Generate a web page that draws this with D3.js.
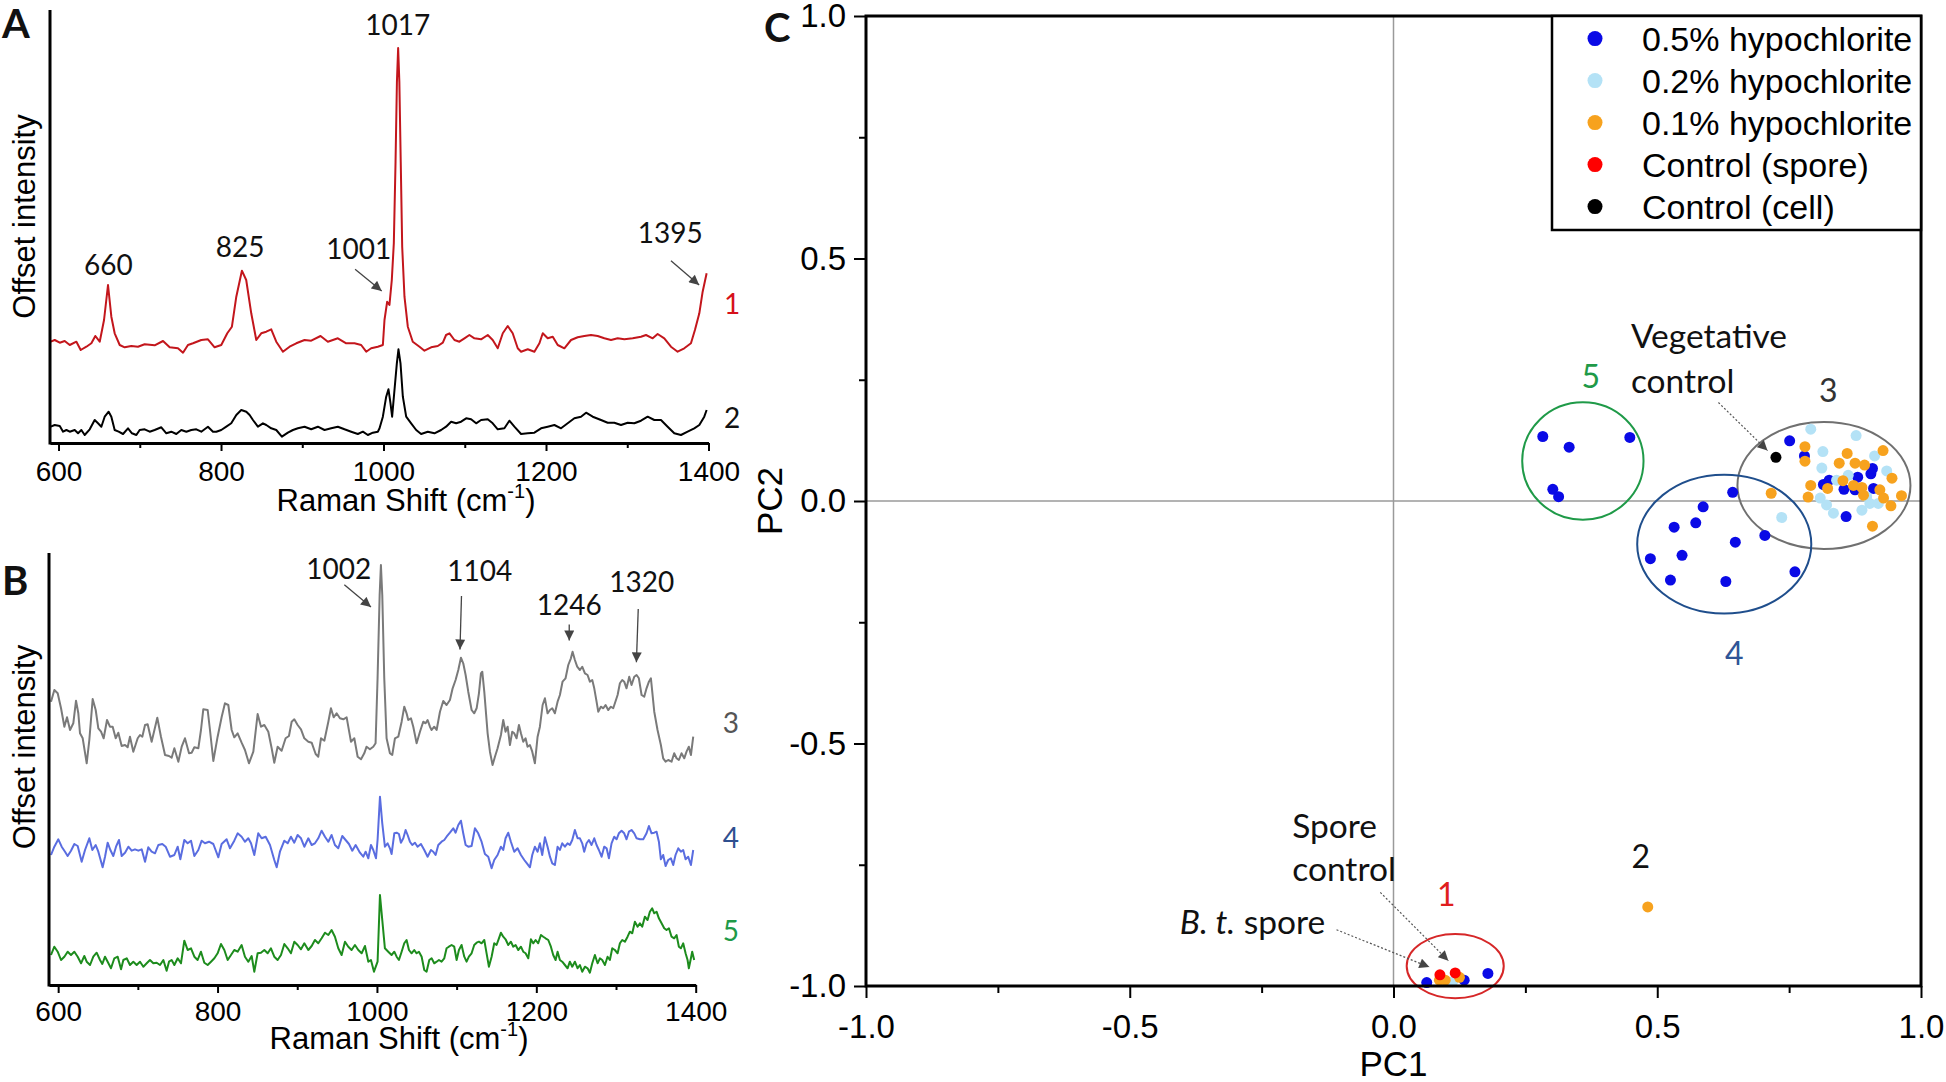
<!DOCTYPE html>
<html><head><meta charset="utf-8">
<script src="https://cdn.jsdelivr.net/npm/d3@7"></script>
<style>body{margin:0;background:#fff}svg{display:block}</style>
</head><body>
<svg id="fig" width="1946" height="1082"></svg>
<script>
// ---------- DATA ----------
// Panel A spectra: [Raman shift (cm-1), offset intensity (a.u.)]
const spectrum1 = [[590.4,100.3],[595.3,102],[601.5,99.3],[607.6,101],[613.8,97],[622,100.3],[627.3,92],[634.3,95.3],[640.4,98.7],[645.3,106],[650.7,100.3],[656,122],[660.9,157],[665,125.3],[669.1,108.7],[675.3,97],[681.4,94.7],[689.6,96],[697.8,95.3],[706,97.7],[718.3,96.7],[728.6,101],[736.8,94.7],[747,93.7],[753.2,89.3],[759.3,97],[765.5,98.7],[775.7,102],[783.9,102.7],[792.1,94.7],[800.3,97],[807.7,108.7],[813.4,115.3],[818.8,145.3],[825.7,171.3],[831,162],[837.2,128.7],[843.4,102],[849.5,108.7],[855.7,110.3],[861.8,112.7],[868,100.3],[876.2,90.3],[884.4,95.3],[892.6,98.7],[902.8,102],[911,101.3],[922.5,106],[931.5,100.3],[943.8,103.7],[954.1,98.7],[964.3,98.7],[972.5,97],[978.7,90.3],[984.8,93.7],[993,95.3],[999.2,97],[1001.2,122],[1004.5,140.3],[1007.3,137],[1010.2,162],[1012.7,199],[1014.8,280],[1016.5,360],[1018,394],[1019.5,360],[1021.2,280],[1023,195],[1025.8,145.3],[1029.9,115.3],[1036,100.3],[1044.3,95.3],[1050.4,91.3],[1058.6,94.7],[1066.8,96],[1073,99.3],[1077,107],[1081.2,108.7],[1087.3,102],[1093.4,100.3],[1099.6,103.7],[1105.7,107],[1111.9,103.7],[1120.1,102.7],[1128.3,107],[1134.4,102],[1140.6,93.7],[1146.8,108.7],[1152.9,116],[1159,108.7],[1165.2,93.7],[1169.3,90.3],[1177.5,92.7],[1185.7,90.3],[1191.9,98.7],[1196,108.7],[1202.1,103.7],[1208.3,105.3],[1214.4,97],[1222.6,93.7],[1230.8,102],[1239,104.7],[1247.2,106],[1255.4,107],[1263.6,106],[1271.8,103.7],[1280,102],[1288.2,103.7],[1296.4,102.7],[1306.7,103.7],[1316.9,105.3],[1323.1,107],[1331.3,103.7],[1337.4,108],[1345.6,103.7],[1353.8,95.3],[1362,90.3],[1370.2,93.7],[1378.4,98.7],[1383.3,112],[1388.7,128.7],[1392.8,150.3],[1397.7,168.7]];
const spectrum2 = [[590.4,15.3],[595.3,17],[601.5,16],[605.6,10.3],[609.7,12],[613.8,10.3],[619.9,12],[624,8.7],[628.1,12],[632.2,7],[638.4,12.7],[644.5,22],[648.6,18.7],[652.7,15.3],[656.8,25.3],[661.7,30.3],[665,25.3],[669.1,12],[674,10.3],[679.4,8],[685.5,13.7],[690.4,8.7],[695.8,7],[699.9,12],[706,12.7],[712.2,10.3],[718.3,12],[726.5,14.7],[732.7,8.7],[738.8,10.3],[745,8],[751.1,12],[757.3,10.3],[763.4,12],[769.6,12.7],[775.7,10.3],[783.9,15.3],[790.1,10.3],[794.2,10.3],[800.3,12],[806.5,15.3],[812.6,18.7],[818.8,27],[824.9,32],[831.1,30.3],[835.2,27],[839.3,22],[845.4,15.3],[851.6,18.7],[855.7,17],[861.8,13.7],[868,12],[874.9,5.3],[882.3,9.3],[888.5,12],[894.6,13.7],[902.8,15.3],[911,12.7],[919.2,15.3],[927.4,12],[935.6,13.7],[943.8,15.3],[952,12.7],[960.2,10.3],[968.4,8],[974.6,10.3],[980.7,7],[986.9,9.3],[993,10.3],[995.1,13.7],[999.2,25.3],[1003.3,45.3],[1006.1,52.7],[1008.6,38.7],[1010.6,25.3],[1013.5,52],[1016.4,78.7],[1018.4,92.7],[1020.9,78.7],[1023.8,45.3],[1027.9,25.3],[1034,18.7],[1040.2,12],[1046.3,8],[1054.5,10.3],[1062.7,8.7],[1070.9,12],[1077,15.3],[1083.2,20.3],[1089.4,18.7],[1095.5,20.3],[1101.7,23.7],[1107.8,22.7],[1114,18.7],[1120.1,22],[1128.3,22.7],[1134.4,18.7],[1140.6,12.7],[1148.8,13.7],[1154.9,21.3],[1161.1,15.3],[1169.3,8],[1177.5,8.7],[1185.7,9.3],[1193.9,13.7],[1202.1,15.3],[1210.3,17],[1218.5,13.7],[1226.7,18.7],[1234.9,23.7],[1243.1,25.3],[1249.3,29.3],[1257.5,25.3],[1267.7,22],[1275.9,19.3],[1284.1,19.3],[1292.3,17],[1300.5,19.3],[1308.7,18.7],[1316.9,21.3],[1325.1,25.3],[1333.3,22],[1341.5,22],[1349.7,15.3],[1357.9,8.7],[1366.1,7],[1374.3,10.3],[1382.5,13.7],[1388.7,17],[1394.8,25.3],[1397.7,32]];
// Panel B spectra
const spectrum3 = [[591,283.3],[595.2,295],[599.4,291.7],[603.6,276.7],[607.8,258.3],[611.1,267.7],[614.9,255],[619,261.7],[622.4,284.3],[625.3,271.7],[627.4,251.7],[630.8,246.7],[635.8,221.7],[639.1,245],[643.3,286],[647.1,275],[650.4,256.7],[653.8,253.3],[657.1,246.7],[661.3,265],[665,258.3],[668.4,258.3],[672.2,246.7],[675.5,252.3],[679.7,239],[683.9,240],[687.2,237.7],[690.1,248.3],[694.3,233.3],[699.8,246.7],[702.7,250],[705.6,248.3],[709,260],[712.3,260.7],[717.3,243.3],[724.4,267.3],[729,248.3],[734.1,230],[739.1,229],[742.4,227.3],[745.8,236.7],[750.8,223.3],[755,238.3],[759.1,246.7],[764.2,231.7],[767.5,232.3],[770.9,237.7],[775.9,236.7],[779.2,255],[782.1,275.7],[787.6,275],[790.5,255],[794.7,224],[800.1,248.3],[805.1,267.7],[809.3,281.7],[813.5,280],[817.7,255],[821,247.7],[825.2,251.7],[830.2,242.3],[834.4,235],[839.4,221.7],[844.9,233.3],[850.3,271],[854.5,258.3],[858.7,260],[863.7,253.3],[867.9,236.7],[871.2,222.3],[875.4,238.3],[880.4,234.3],[885.4,246.7],[889.6,249],[893,263.3],[896.3,265.7],[900.5,260],[904.7,255.7],[908.9,246.7],[913.9,243.3],[918.1,242.3],[923.1,231],[926.4,228.3],[929.8,246.7],[934,244.3],[939,263.3],[942.3,276.7],[945.7,267.7],[949.4,271.7],[953.6,266.7],[957.8,265.7],[962,267.7],[967.4,243.3],[971.6,246.7],[975.8,228.3],[980,225.7],[984.1,231.7],[987,238.3],[991.2,235.7],[995.4,238.3],[998.3,241.7],[1000.8,306.7],[1003.4,390],[1005,420],[1006.7,390],[1009.2,306.7],[1012.1,246.7],[1016.3,231.7],[1019.2,230],[1022.6,246.7],[1026.8,248.3],[1031,263.3],[1034.3,278.3],[1037.2,271.7],[1039.3,265],[1042.7,266.7],[1045.6,258.3],[1049.8,241.7],[1054,253.3],[1058.1,263.3],[1061.1,261.7],[1063.6,265],[1066.5,258.3],[1068.6,255],[1071.9,258.3],[1074.9,255],[1079.1,273.3],[1083.2,284],[1087.4,280],[1091.6,285],[1095,296.7],[1098.7,305],[1102.1,315],[1105.4,327.3],[1108.3,321.7],[1111.3,310],[1114.6,293.3],[1118.8,275],[1122.1,271.7],[1125.1,276.7],[1128,291.7],[1130.5,311.7],[1132.2,313.3],[1134.7,293.3],[1138.9,251.7],[1141.8,233.3],[1145.1,220],[1148.1,228.3],[1151.4,236.7],[1155.6,250],[1158.5,265],[1161.4,253.3],[1164,258.3],[1166.9,240],[1169.8,253.3],[1172.3,251.7],[1175.2,246.7],[1178.2,260],[1180.7,251.7],[1183.6,243.3],[1186.5,246.7],[1189,238.3],[1192,240],[1194.9,233.3],[1198.2,221.7],[1201.6,248.3],[1204.5,258.3],[1207.9,280],[1210.8,286.7],[1214.1,271.7],[1217.1,275],[1220,276.7],[1223.3,271.7],[1226.7,283.3],[1229.6,290],[1232.9,303.3],[1236.7,306.7],[1240.1,320],[1243.4,326.7],[1245.5,333.3],[1248.4,325],[1251.3,318.3],[1254.7,315],[1257.6,318.3],[1261,311.7],[1264.3,310],[1267.2,303.3],[1270.2,305],[1272.7,296.7],[1275.6,283.3],[1277.7,273.3],[1281,278.3],[1284,276.7],[1286.9,280],[1290.2,275],[1293.6,278.3],[1296.5,276.7],[1298.6,281.7],[1302,290],[1304.9,301.7],[1307.8,305],[1310.3,303.3],[1313.2,296.7],[1316.6,308.3],[1319.5,300],[1322.9,308.3],[1325.8,310],[1328.7,306.7],[1332.1,290],[1335.4,288.3],[1338.3,296.7],[1341.3,303.3],[1343.8,306.7],[1348,273.3],[1352.1,255],[1356.3,240],[1359.2,226.7],[1362.2,223.3],[1365.5,225],[1369.7,223.3],[1373,231.7],[1376,226.7],[1378.9,225],[1382.2,231.7],[1385.6,226.7],[1388.5,233.3],[1391.4,238.3],[1394,230],[1396.9,248.3]];
const spectrum4 = [[591,130],[595.2,138.3],[600.2,145.7],[604.4,138.3],[608.6,133.3],[611.9,129],[616.1,134.3],[620.3,141],[624.5,139],[629.5,123.3],[633.7,135],[639.1,146.7],[642.9,135],[647.1,140],[650.4,133.3],[655.8,117.7],[658.8,128.3],[662.1,142.3],[665.5,135],[669.2,129],[672.6,138.3],[676.3,145],[679.7,129],[683.9,132.3],[688.1,138.3],[692.2,134.3],[696.4,135.7],[700.6,134.3],[704.8,135.7],[709,123.3],[713.1,137.7],[717.3,133.3],[721.5,131.7],[725.7,140],[730.7,141],[734.9,138.3],[740.3,128.3],[745.8,130],[750,138.3],[753.3,125.7],[758.3,145],[762.5,141.7],[766.7,144.3],[770.9,129],[775.9,135],[780.1,144.3],[784.2,141.7],[789.3,143.3],[794.7,141],[801,127.7],[805.1,141],[811.4,145.7],[815.6,136.7],[821,144.3],[825.2,151.7],[830.2,148.3],[834.4,143.3],[838.6,146.7],[842,141.7],[846.1,130],[851.1,151.7],[855.3,146.7],[860.4,148.3],[865.8,140],[871.2,125],[874.2,117.7],[878.3,133.3],[883.8,144.3],[888,141.7],[892.1,148.3],[896.3,142.3],[900.5,150],[904.7,146.7],[908.9,138.3],[913.9,146.7],[918.1,140],[922.2,141.7],[926.4,146.7],[930.6,154.3],[934.8,148.3],[939,143.3],[943.1,150],[947.3,140],[951.5,136.7],[956.5,149],[960.7,145],[964.9,141],[969.1,134.3],[973.3,140],[978.7,132.3],[982.9,128.3],[985.8,133.3],[989.2,126.7],[992.5,140],[995.4,135],[998.8,126.7],[1000.8,145],[1003.8,188.3],[1006.7,161.7],[1010,138.3],[1013.4,141.7],[1016.3,136.7],[1018.4,131],[1021.8,151.7],[1024.7,152.3],[1027.6,151],[1030.1,142.3],[1033.1,146.7],[1036,155],[1038.5,150],[1041.4,143.3],[1044.3,140],[1047.7,142.3],[1051,138.3],[1055.2,141],[1059.4,135],[1063.6,128.3],[1067.8,135],[1070.7,133.3],[1073.6,130],[1077,140],[1081.1,143.3],[1084.5,145],[1087.4,148.3],[1091.6,152.3],[1095.8,156.7],[1098.7,152.3],[1102.1,160],[1105.4,164.3],[1108.3,151.7],[1111.3,140],[1114.6,138.3],[1118.8,139],[1123,156.7],[1127.1,151.7],[1131.3,143.3],[1135.5,131],[1139.7,128.3],[1143.9,116.7],[1147.2,125],[1151.4,130],[1155.6,138.3],[1158.5,135],[1161.4,146.7],[1164.8,152.3],[1168.1,143.3],[1172.3,133.3],[1176.5,136.7],[1180.7,130],[1184.9,125],[1188.2,121.7],[1192,117.7],[1194.9,130],[1198.2,138.3],[1201.6,133.3],[1204.5,141.7],[1207.4,130],[1210.8,147.7],[1214.1,138.3],[1217.1,128.3],[1220,121.7],[1223.3,120],[1226.7,138.3],[1229.6,135],[1232.5,141.7],[1235.9,138.3],[1239.2,141.7],[1242.1,140],[1245.1,145],[1248.4,155],[1251.8,146.7],[1254.7,146.7],[1257.6,141.7],[1260.1,133.3],[1263.1,141.7],[1266,145],[1269.3,140],[1272.7,146.7],[1275.6,140],[1278.5,135],[1281.9,128.3],[1285.2,138.3],[1288.2,136.7],[1291.1,126.7],[1294.4,141.7],[1297.8,148.3],[1300.7,145.7],[1303.6,151.7],[1307,154.3],[1310.3,151.7],[1313.2,145.7],[1316.2,153.3],[1319.5,155],[1322.9,151.7],[1325.8,146.7],[1330,145.7],[1334.2,145.7],[1338.3,151.7],[1341.3,159],[1344.6,151.7],[1348,152.3],[1350.9,153.3],[1353.8,143.3],[1356.3,125.7],[1359.2,130],[1362.2,119],[1365.5,125],[1368.9,126.7],[1371.8,120],[1374.7,130],[1378.1,136.7],[1381.4,133.3],[1384.3,135],[1387.3,125.7],[1390.6,128.3],[1394,120],[1396.9,135]];
const spectrum5 = [[591,30],[595.2,38.3],[599.4,33.3],[603.6,25],[607.8,28.3],[611.9,33.3],[616.1,30],[620.3,33.3],[624.5,28.3],[628.7,21.7],[632.8,29],[635.8,23.3],[640,20],[644.1,28.3],[648.3,32.3],[652.5,25],[655.4,21],[658.8,28.3],[662.1,23.3],[666.3,16.7],[670.5,26.7],[674.7,28.3],[678.9,15.7],[681.8,25],[686,26.7],[690.1,20],[694.3,23.3],[698.5,20],[702.7,23.3],[706.9,18.3],[711.1,21.7],[715.2,25],[719.4,21.7],[723.6,22.3],[727.8,20],[732,25],[736.1,14.3],[739.1,23.3],[742.4,25],[745.8,20],[750,26.7],[754.1,21.7],[758.3,44.3],[762.5,35],[766.7,36.7],[770.9,28.3],[775,25],[779.2,33.3],[783.4,22.3],[787.6,20],[791.8,23.3],[796,26.7],[800.1,31.7],[804.3,41],[808.5,35],[812.7,25],[816.9,30],[821,35],[825.2,33.3],[830.2,40],[834.4,28.3],[838.6,23.3],[842.8,29],[846.1,13.3],[850.3,31.7],[854.5,32.3],[858.7,35],[862.9,31.7],[867,36.7],[871.2,28.3],[875.4,25],[879.6,30],[883.8,41],[888,36.7],[892.1,31.7],[896.3,43.3],[900.5,40],[904.7,35.7],[908.9,41.7],[913.9,35],[918.1,39],[922.2,45],[926.4,41.7],[930.6,46.7],[934.8,52.3],[939,50],[943.1,55],[947.3,48.3],[951.5,36.7],[955.7,30],[959.9,43.3],[964.1,38.3],[968.2,35],[972.4,40],[976.6,35],[980.8,31.7],[985,39],[989.2,23.3],[992.5,25],[996.3,13.3],[1000.8,23.3],[1003.8,90],[1006.7,65],[1010,36.7],[1014.2,33.3],[1018.4,30],[1021.8,33.3],[1024.7,28.3],[1027.6,25],[1031,33.3],[1034.3,41.7],[1037.2,45],[1040.2,35],[1043.5,31.7],[1046.8,35],[1049.8,31.7],[1052.7,33.3],[1056.1,28.3],[1059.4,15],[1062.3,13.3],[1065.7,25],[1068.6,26.7],[1071.9,21.7],[1074.9,23.3],[1077.8,25],[1081.1,23.3],[1084.5,26.7],[1087.4,36.7],[1090.3,38.3],[1093.7,40],[1097,38.3],[1100,25],[1102.9,35],[1106.2,40],[1109.6,28.3],[1112.5,23.3],[1115.4,28.3],[1118.8,31.7],[1122.1,40],[1125.1,42.3],[1128,43.3],[1131.3,41.7],[1134.7,45],[1137.6,31.7],[1140.5,18.3],[1143.9,28.3],[1147.2,41.7],[1150.1,40],[1153.1,46.7],[1155.6,52.3],[1158.5,48.3],[1161.4,45.7],[1164.8,40],[1168.1,43.3],[1171.1,38.3],[1174,40],[1177.3,35],[1180.7,38.3],[1183.6,33.3],[1186.5,31.7],[1189.9,26.7],[1193.2,45.7],[1196.1,41.7],[1199.1,45],[1202.4,41.7],[1205.8,50],[1208.7,48.3],[1211.6,46.7],[1215,45],[1218.3,38.3],[1221.2,30],[1224.2,25],[1226.7,33.3],[1229.6,25],[1232.5,23.3],[1235.9,20],[1239.2,16.7],[1242.1,23.3],[1245.1,18.3],[1248.4,23.3],[1251.8,16.7],[1254.7,20],[1257.6,13.3],[1261,18.3],[1264.3,16.7],[1267.2,12.3],[1270.2,21.7],[1273.5,30],[1276.9,21.7],[1279.8,26.7],[1282.7,25],[1286.1,20],[1289.4,28.3],[1292.3,25],[1295.3,36.7],[1298.6,35],[1302,31.7],[1304.9,41.7],[1307.8,45],[1311.2,43.3],[1314.5,48.3],[1317.4,53.3],[1320.4,51.7],[1323.7,63.3],[1327.1,58.3],[1330,61.7],[1332.9,58.3],[1336.2,68.3],[1339.6,65],[1342.5,73.3],[1345.4,76.7],[1348,71.7],[1350.9,73.3],[1353.8,66.7],[1357.2,61.7],[1360.5,56.7],[1363.4,55],[1366.4,56.7],[1369.7,48.3],[1373,46.7],[1376,50],[1378.9,38.3],[1381.4,36.7],[1384.3,41.7],[1387.3,31.7],[1389.8,25],[1391.4,16.7],[1394,26.7],[1395.6,33.3],[1398.1,25]];

// Panel A / B peak annotations: [label, shift, intensity]
const peaksA = [["660",661.3,167],["825",823.4,185.3],["1001",969.4,183.3],["1017",1017.4,407.2],["1395",1352.8,199]];
const peaksB = [["1002",952.1,406.4],["1104",1129,403.7],["1246",1241.3,370],["1320",1332.4,393.4]];
// arrows [x1,y1,x2,y2] in data units
const arrowsA = [[965,172.7,997.8,151],[1353.8,181.3,1388.5,157]];
const arrowsB = [[959.1,400.2,992.5,377.9],[1106.1,389,1104.2,335.5],[1241.3,360.6,1241.3,344.4],[1327.9,376,1325.6,322.7]];

const ticksRaman = [600,800,1000,1200,1400];
const minorRaman = [700,900,1100,1300];

// Panel C PCA scores [PC1, PC2]
const hypo05 = [[0.643,0.018],[0.587,-0.012],[0.573,-0.045],[0.532,-0.054],[0.648,-0.085],[0.704,-0.071],[0.487,-0.119],[0.547,-0.112],[0.525,-0.163],[0.630,-0.166],[0.761,-0.146],
  [0.283,0.133],[0.333,0.111],[0.448,0.131],[0.302,0.024],[0.313,0.009],
  [0.751,0.124],[0.779,0.093],[0.815,0.034],[0.826,0.043],[0.854,0.024],[0.880,0.049],[0.905,0.056],[0.908,0.067],[0.910,0.026],[0.875,0.023],[0.858,-0.032],
  [0.063,-0.993],[0.134,-0.988],[0.179,-0.974]];
const hypo02 = [[0.791,0.148],[0.877,0.135],[0.814,0.102],[0.812,0.068],[0.912,0.093],[0.935,0.062],[0.862,0.053],[0.840,0.043],[0.809,0.006],[0.821,-0.008],[0.834,-0.025],[0.888,-0.019],[0.903,-0.005],[0.919,-0.005],[0.736,-0.034],[0.897,0.009],[0.112,-0.991]];
const hypo01 = [[0.780,0.112],[0.780,0.082],[0.860,0.098],[0.845,0.078],[0.875,0.078],[0.893,0.074],[0.928,0.104],[0.945,0.047],[0.852,0.042],[0.791,0.032],[0.823,0.026],[0.872,0.032],[0.888,0.028],[0.891,0.012],[0.786,0.008],[0.716,0.016],[0.922,0.023],[0.929,0.006],[0.943,-0.010],[0.963,0.011],[0.908,-0.052],
  [0.087,-0.988],[0.098,-0.988],[0.125,-0.982],[0.482,-0.837]];
const controlSpore = [[0.088,-0.977],[0.117,-0.973]];
const controlCell = [[0.725,0.090]];

const legendNames = ["0.5% hypochlorite","0.2% hypochlorite","0.1% hypochlorite","Control (spore)","Control (cell)"];
const legendColors = ["#0a0ae6","#b4e2f6","#f7a21e","#ff0000","#000000"];

// cluster ellipses: [cx, cy, rx, ry] in PC units
const clusterEllipses = [[0.117,-0.959,0.092,0.066],[0.816,0.032,0.164,0.131],[0.627,-0.089,0.165,0.143],[0.359,0.0825,0.115,0.121]];
const clusterColors = ["#d62728","#707070","#1f4e8c","#1f9a48"];
const clusterLabels = [["1",0.100,-0.835,"#e01e1e"],["2",0.469,-0.757,"#111"],["3",0.824,0.204,"#333"],["4",0.646,-0.338,"#2f5597"],["5",0.374,0.233,"#1f9a48"]];
const ticksPC = [-1,-0.5,0,0.5,1];
const minorPC = [-0.75,-0.25,0.25,0.75];

// ---------- DRAW ----------
const svg = d3.select("#fig");
const AX = "Liberation Sans, Arial, sans-serif";
const CAL = "Lato, 'Open Sans', sans-serif";
const defs = svg.append("defs");
defs.append("marker").attr("id","arr").attr("viewBox","0 0 10 10").attr("refX",10).attr("refY",5)
  .attr("markerWidth",11).attr("markerHeight",10).attr("markerUnits","userSpaceOnUse").attr("orient","auto")
  .append("path").attr("d","M0,0L10,5L0,10z").attr("fill","#444");

function panelLabel(t,x,y){svg.append("text").attr("x",x).attr("y",y).text(t)
  .attr("font-family",CAL).attr("font-weight","bold").attr("font-size",40).attr("fill","#111");}

function spectraPanel(opt){
  const g = svg.append("g");
  const x = d3.scaleLinear().domain(opt.xd).range(opt.xr);
  const y = d3.scaleLinear().domain(opt.yd).range(opt.yr);
  const line = d3.line().x(d=>x(d[0])).y(d=>y(d[1]));
  opt.series.forEach(s=>{
    g.append("path").datum(s.data).attr("d",line).attr("fill","none")
      .attr("stroke",s.color).attr("stroke-width",2).attr("stroke-linejoin","round");
    g.append("text").attr("x",x(s.lab[0])).attr("y",y(s.lab[1])).attr("dy","0.35em")
      .attr("text-anchor","middle").attr("font-family",CAL).attr("font-size",28).attr("fill",s.lcolor).text(s.lab[2]);
  });
  // minor ticks
  g.append("g").attr("transform",`translate(0,${opt.yr[0]})`)
    .call(d3.axisBottom(x).tickValues(minorRaman).tickSize(5).tickFormat(""))
    .call(a=>{a.select(".domain").remove();a.selectAll("line").attr("stroke","#000").attr("stroke-width",2);});
  const ax = g.append("g").attr("transform",`translate(0,${opt.yr[0]})`)
    .call(d3.axisBottom(x).tickValues(ticksRaman).tickSize(8).tickSizeOuter(0).tickPadding(opt.pad).tickFormat(d3.format("d")));
  ax.select(".domain").attr("stroke","#000").attr("stroke-width",3);
  ax.selectAll(".tick line").attr("stroke","#000").attr("stroke-width",2);
  ax.selectAll("text").attr("font-family",AX).attr("font-size",28).attr("fill","#000");
  // left axis line
  g.append("line").attr("x1",opt.xr[0]).attr("x2",opt.xr[0]).attr("y1",opt.yr[0]+1.5).attr("y2",opt.yr[1])
    .attr("stroke","#000").attr("stroke-width",3);
  // axis titles
  const t = g.append("text").attr("x",opt.titleX).attr("y",opt.titleY)
    .attr("text-anchor","middle").attr("font-family",AX).attr("font-size",31).attr("fill","#000");
  t.append("tspan").text("Raman Shift (cm");
  t.append("tspan").text("-1").attr("font-size",20).attr("dy",-13);
  t.append("tspan").text(")").attr("dy",13);
  g.append("text").attr("transform",`translate(${opt.ylabX},${(opt.yr[0]+opt.yr[1])/2 + opt.ylabDy}) rotate(-90)`)
    .attr("text-anchor","middle").attr("font-family",AX).attr("font-size",31).attr("fill","#000").text("Offset intensity");
  // peak labels
  opt.peaks.forEach(p=>g.append("text").attr("x",x(p[1])).attr("y",y(p[2])).attr("text-anchor","middle")
    .attr("font-family",CAL).attr("font-size",28).attr("fill","#111").text(p[0]));
  opt.arrows.forEach(a=>g.append("line").attr("x1",x(a[0])).attr("y1",y(a[1])).attr("x2",x(a[2])).attr("y2",y(a[3]))
    .attr("stroke","#444").attr("stroke-width",1.3).attr("marker-end","url(#arr)"));
}

spectraPanel({xd:[589.5,1400],xr:[50,708.5],yd:[-1,432],yr:[443,10],pad:10,titleX:406,titleY:511,ylabX:35,ylabDy:-10,
  series:[{data:spectrum1,color:"#c3161c",lab:[1429,138,"1"],lcolor:"#d6111a"},{data:spectrum2,color:"#000",lab:[1429,24,"2"],lcolor:"#111"}],
  peaks:peaksA, arrows:arrowsA});
spectraPanel({xd:[588.5,1400],xr:[49,695.7],yd:[0,432],yr:[985,553],pad:8,titleX:399,titleY:1049,ylabX:35,ylabDy:-22,
  series:[{data:spectrum3,color:"#7a7a7a",lab:[1444,262,"3"],lcolor:"#555"},{data:spectrum4,color:"#5a6de0",lab:[1444,147,"4"],lcolor:"#2f4f8f"},{data:spectrum5,color:"#1d8c1d",lab:[1444,54,"5"],lcolor:"#1f9a48"}],
  peaks:peaksB, arrows:arrowsB});
panelLabel("A",2,38);
panelLabel("B",2,595);

// ---- Panel C ----
const gc = svg.append("g");
const xC = d3.scaleLinear().domain([-1,1]).range([866,1921]);
const yC = d3.scaleLinear().domain([-1,1]).range([986,16]);
// zero lines
gc.append("line").attr("x1",xC(0)).attr("x2",xC(0)).attr("y1",yC(1)).attr("y2",yC(-1)).attr("stroke","#9a9a9a").attr("stroke-width",1.5);
gc.append("line").attr("x1",xC(-1)).attr("x2",xC(1)).attr("y1",yC(0)).attr("y2",yC(0)).attr("stroke","#9a9a9a").attr("stroke-width",1.5);
// ellipses
gc.selectAll("ellipse.cl").data(clusterEllipses).join("ellipse")
  .attr("cx",d=>xC(d[0])).attr("cy",d=>yC(d[1]))
  .attr("rx",d=>xC(d[0]+d[2])-xC(d[0])).attr("ry",d=>yC(d[1])-yC(d[1]+d[3]))
  .attr("fill","none").attr("stroke",(d,i)=>clusterColors[i]).attr("stroke-width",2);
// points
[[hypo05,0],[hypo02,1],[hypo01,2],[controlSpore,3],[controlCell,4]].forEach(([arr,i])=>{
  gc.append("g").selectAll("circle").data(arr).join("circle")
    .attr("cx",d=>xC(d[0])).attr("cy",d=>yC(d[1])).attr("r",5.5).attr("fill",legendColors[i]);
});
// frame and axes
const axL = gc.append("g").attr("transform",`translate(${xC(-1)},0)`)
  .call(d3.axisLeft(yC).tickValues(ticksPC).tickSize(12).tickSizeOuter(0).tickPadding(8).tickFormat(d=>d.toFixed(1)));
gc.append("g").attr("transform",`translate(${xC(-1)},0)`).call(d3.axisLeft(yC).tickValues(minorPC).tickSize(7).tickFormat(""))
  .call(a=>a.select(".domain").remove());
const axB = gc.append("g").attr("transform",`translate(0,${yC(-1)})`)
  .call(d3.axisBottom(xC).tickValues(ticksPC).tickSize(12).tickSizeOuter(0).tickPadding(17).tickFormat(d=>d.toFixed(1)));
gc.append("g").attr("transform",`translate(0,${yC(-1)})`).call(d3.axisBottom(xC).tickValues(minorPC).tickSize(7).tickFormat(""))
  .call(a=>a.select(".domain").remove());
gc.selectAll(".tick line").attr("stroke","#000").attr("stroke-width",2);
[axL,axB].forEach(a=>{a.select(".domain").remove();a.selectAll("text").attr("font-family",AX).attr("font-size",33).attr("fill","#000");});
gc.append("rect").attr("x",xC(-1)).attr("y",yC(1)).attr("width",xC(1)-xC(-1)).attr("height",yC(-1)-yC(1))
  .attr("fill","none").attr("stroke","#000").attr("stroke-width",3);
gc.append("text").attr("x",(xC(-1)+xC(1))/2).attr("y",1076).attr("text-anchor","middle")
  .attr("font-family",AX).attr("font-size",35).text("PC1");
gc.append("text").attr("transform",`translate(782,${yC(0)}) rotate(-90)`).attr("text-anchor","middle")
  .attr("font-family",AX).attr("font-size",35).text("PC2");
panelLabel("C",764,42);

// cluster labels
clusterLabels.forEach(l=>gc.append("text").attr("x",xC(l[1])).attr("y",yC(l[2])).attr("text-anchor","middle")
  .attr("font-family",CAL).attr("font-size",32).attr("fill",l[3]).text(l[0]));
// annotations
const ann = [["Vegetative",0.450,0.315],["control",0.450,0.223],["Spore",-0.192,-0.695],["control",-0.192,-0.783]];
ann.forEach(a=>gc.append("text").attr("x",xC(a[1])).attr("y",yC(a[2])).attr("font-family",CAL).attr("font-size",33.5).attr("fill","#111").text(a[0]));
const bt = gc.append("text").attr("x",xC(-0.405)).attr("y",yC(-0.892)).attr("font-family",CAL).attr("font-size",33.5).attr("fill","#111");
bt.append("tspan").attr("font-style","italic").text("B. t.");
bt.append("tspan").text(" spore");
const arrowsC = [[0.616,0.203,0.709,0.104],[-0.025,-0.807,0.104,-0.948],[-0.108,-0.884,0.068,-0.961]];
arrowsC.forEach(a=>gc.append("line").attr("x1",xC(a[0])).attr("y1",yC(a[1])).attr("x2",xC(a[2])).attr("y2",yC(a[3]))
  .attr("stroke","#555").attr("stroke-width",1.2).attr("stroke-dasharray","2,2").attr("marker-end","url(#arr)"));

// legend
const lg = gc.append("g");
lg.append("rect").attr("x",1552).attr("y",yC(1)).attr("width",xC(1)-1552).attr("height",230-yC(1))
  .attr("fill","#fff").attr("stroke","#000").attr("stroke-width",2.5);
legendNames.forEach((n,i)=>{
  const cy = 38.6 + i*42;
  lg.append("circle").attr("cx",1595).attr("cy",cy).attr("r",7.5).attr("fill",legendColors[i]);
  lg.append("text").attr("x",1642).attr("y",cy).attr("dy","0.35em").attr("font-family",AX).attr("font-size",34).attr("fill","#000").text(n);
});
</script>
</body></html>
